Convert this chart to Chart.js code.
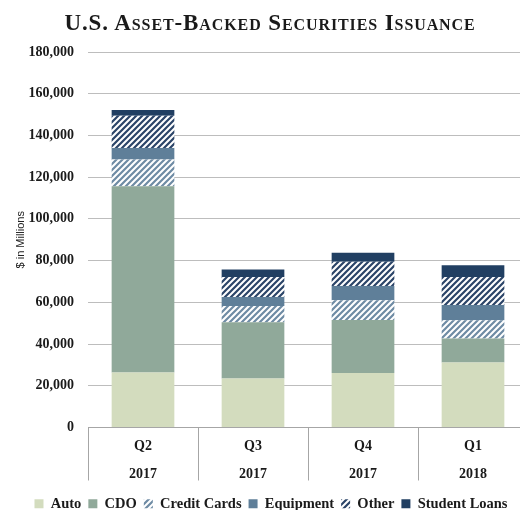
<!DOCTYPE html>
<html>
<head>
<meta charset="utf-8">
<script src="https://cdn.jsdelivr.net/npm/chart.js@4"></script>
<style>
  html, body { margin: 0; padding: 0; overflow: hidden; background: #fff; }
  #wrap { position: relative; width: 540px; height: 510px; }
  #titre {
    position: absolute; left: 0; top: 10px; width: 540px; text-align: center;
    font: bold 23px 'Liberation Serif', serif; font-variant: small-caps;
    letter-spacing: 0.9px; color: #1a1a1a;
  }
</style>
</head>
<body>
<div id="wrap">
  <div id="titre">U.S. Asset-Backed Securities Issuance</div>
  <canvas id="myChart" width="540" height="510"></canvas>
</div>
<script>
const trimestres = [['Q2', '2017'], ['Q3', '2017'], ['Q4', '2017'], ['Q1', '2018']]
const auto = [26400, 23500, 26100, 31200]
const cdo = [89300, 26900, 25400, 11500]
const cartoes = [12800, 7800, 9500, 8700]
const equipamento = [5500, 4400, 6800, 7300]
const outros = [15400, 9600, 11700, 13500]
const estudantes = [2800, 3500, 4300, 5600]

// listras diagonais para Credit Cards e Other
const listrado = (cor) => {
    const c = document.createElement('canvas')
    c.width = 6
    c.height = 6
    const g = c.getContext('2d')
    g.fillStyle = '#fff'
    g.fillRect(0, 0, 6, 6)
    g.strokeStyle = cor
    g.lineWidth = 2.2
    g.beginPath()
    g.moveTo(-1, 7); g.lineTo(7, -1)
    g.moveTo(-4, 4); g.lineTo(4, -4)
    g.moveTo(2, 10); g.lineTo(10, 2)
    g.stroke()
    return g.createPattern(c, 'repeat')
}

const serif = "'Liberation Serif', serif"
const ctx = document.getElementById('myChart')

let grafico = new Chart(ctx, {
    type: 'bar',
    data: {
        labels: trimestres,
        datasets: [
            { label: 'Auto', data: auto, backgroundColor: '#d3dcbe' },
            { label: 'CDO', data: cdo, backgroundColor: '#90a99a' },
            { label: 'Credit Cards', data: cartoes, backgroundColor: listrado('#6e8ba4') },
            { label: 'Equipment', data: equipamento, backgroundColor: '#5f7f99' },
            { label: 'Other', data: outros, backgroundColor: listrado('#2b4468') },
            { label: 'Student Loans', data: estudantes, backgroundColor: '#213f62' }
        ]
    },
    options: {
        responsive: false,
        animation: false,
        barPercentage: 0.57,
        categoryPercentage: 1,
        layout: { padding: { top: 52, right: 12, left: 14, bottom: -11 } },
        plugins: {
            tooltip: { enabled: false },
            legend: {
                position: 'bottom',
                labels: {
                    boxWidth: 9,
                    boxHeight: 9,
                    padding: 7,
                    color: '#1a1a1a',
                    font: { family: serif, weight: 'bold', size: 14.5 }
                }
            }
        },
        scales: {
            x: {
                stacked: true,
                afterFit: (s) => { s.height = 62 },
                grid: {
                    offset: true,
                    drawOnChartArea: false,
                    tickLength: 53,
                    color: '#a6a6a6'
                },
                border: { color: '#a6a6a6' },
                ticks: {
                    padding: -48,
                    color: '#1a1a1a',
                    font: { family: serif, weight: 'bold', size: 14, lineHeight: 2 }
                }
            },
            y: {
                stacked: true,
                min: 0,
                max: 180000,
                afterFit: (s) => { s.width = 74 },
                grid: { color: '#bdbdbd', drawTicks: false },
                border: { display: false },
                ticks: {
                    stepSize: 20000,
                    padding: 14,
                    color: '#1a1a1a',
                    font: { family: serif, weight: 'bold', size: 14 },
                    callback: (v) => v.toLocaleString('en-US')
                },
                title: {
                    display: true,
                    text: '$ in Millions',
                    color: '#222',
                    padding: { top: 0, bottom: 0 },
                    font: { family: "'Liberation Sans', sans-serif", size: 11 }
                }
            }
        }
    }
})
</script>
</body>
</html>
